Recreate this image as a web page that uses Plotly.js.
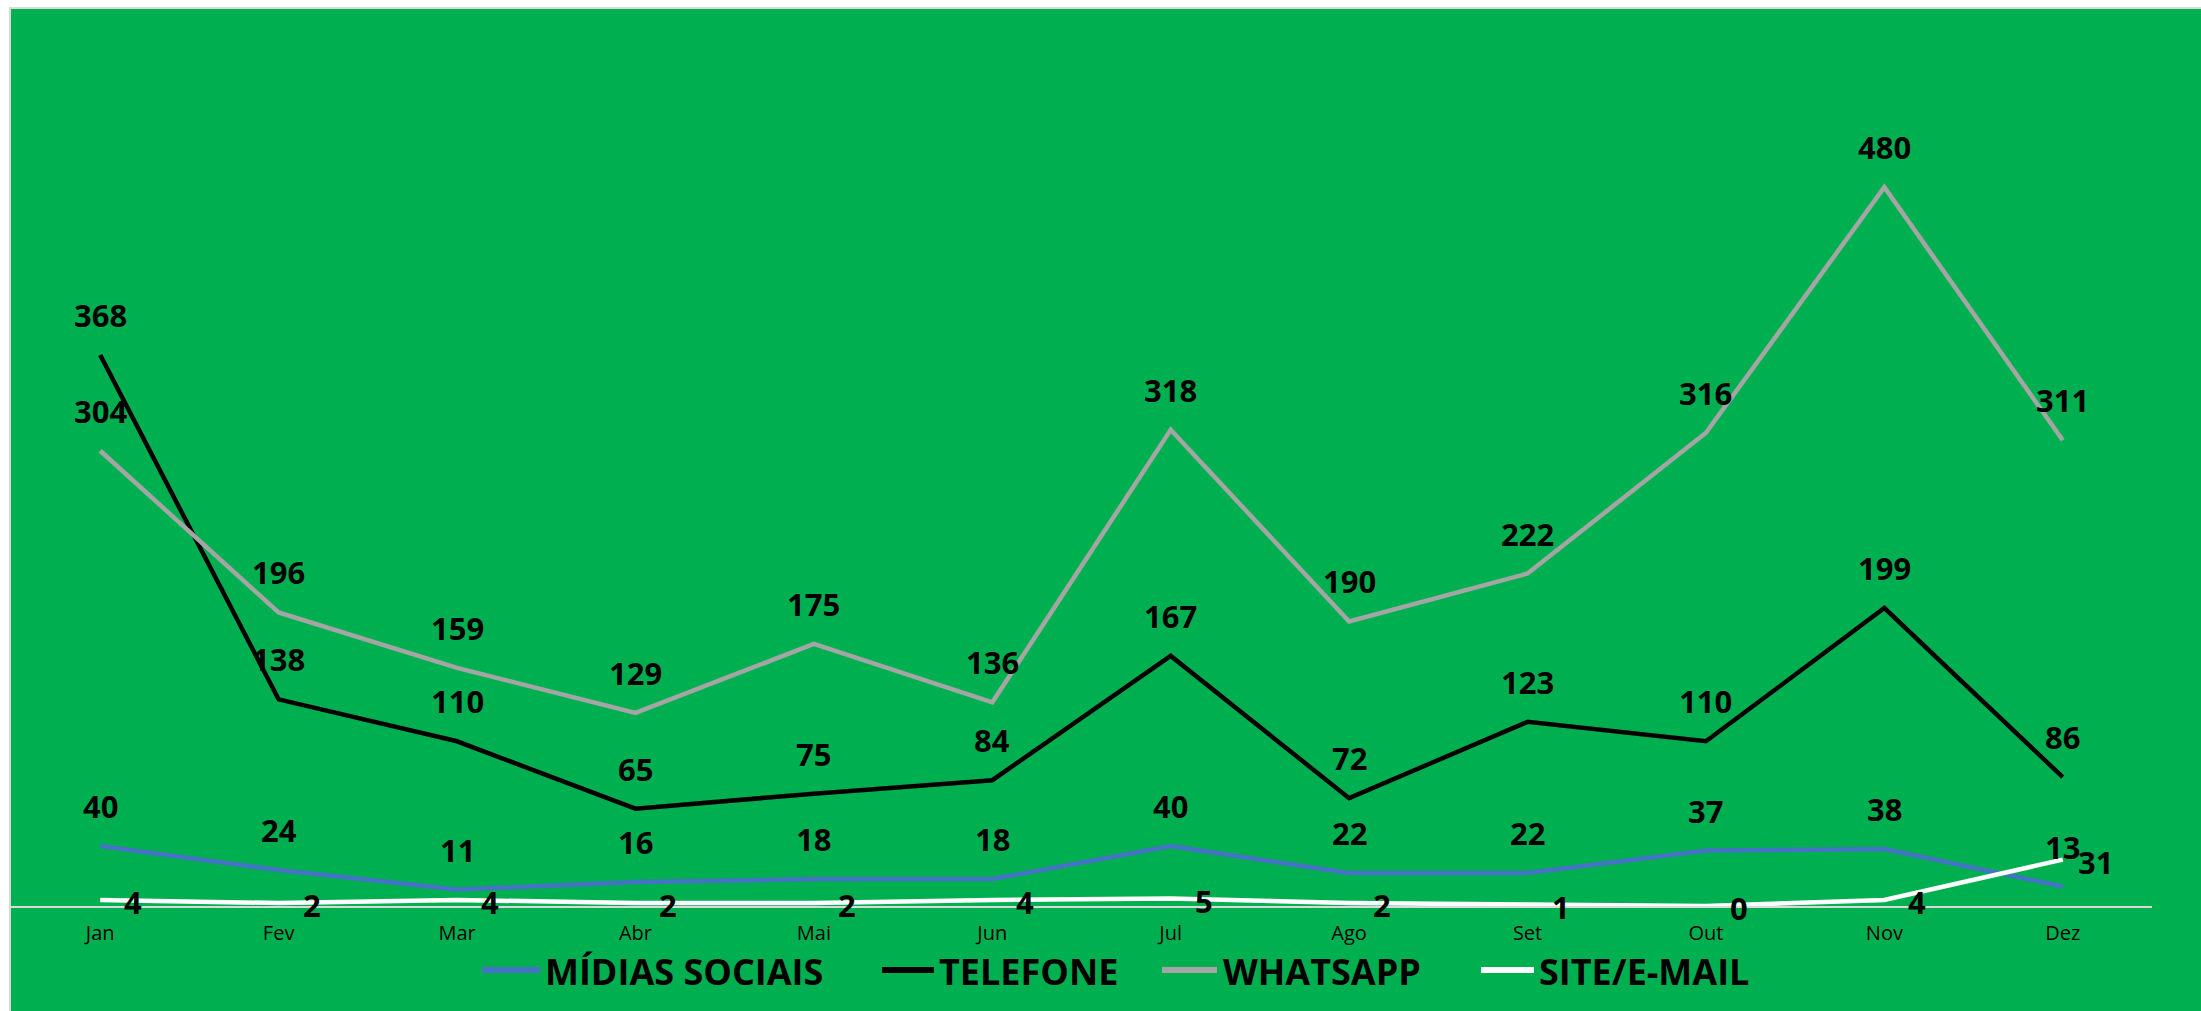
<!DOCTYPE html>
<html><head><meta charset="utf-8">
<script src="https://cdn.plot.ly/plotly-3.0.1.min.js"></script>
<style>
html,body{margin:0;padding:0;background:#fff;width:2201px;height:1011px;overflow:hidden}
#frame{position:absolute;left:9px;top:7px;width:2192px;height:1004px;border-left:2px solid #d9d9d9;border-top:2px solid #d9d9d9;}
#chart{width:2190px;height:1002px;}
</style></head><body><div id="frame"><div id="chart"></div></div>
<script>
const months = ['Jan','Fev','Mar','Abr','Mai','Jun','Jul','Ago','Set','Out','Nov','Dez'];
const midias = [40,24,11,16,18,18,40,22,22,37,38,13];
const telefone = [368,138,110,65,75,84,167,72,123,110,199,86];
const whatsapp = [304,196,159,129,175,136,318,190,222,316,480,311];
const site = [4,2,4,2,2,4,5,2,1,0,4,31];
const seriesNames = ['MÍDIAS SOCIAIS','TELEFONE','WHATSAPP','SITE/E-MAIL'];
const seriesColors = ['#4472C4','#000000','#A5A5A5','#FFFFFF'];
const seriesData = [midias, telefone, whatsapp, site];

const W = 2190, H = 1002;
const mL = 0, mR = 49, mT = 0, mB = 105;
const plotW = W - mL - mR, plotH = H - mT - mB;

const labelFont = {family:'Open Sans, Noto Sans, sans-serif', size:31, color:'#000', weight:'bold'};
const legendFont = {family:'Open Sans, Noto Sans, sans-serif', size:36, color:'#000', weight:'bold'};

const traces = seriesData.map((vals,i)=>({
  type:'scatter', mode:'lines', x:months, y:vals, name:seriesNames[i],
  line:{color:seriesColors[i], width:4.5}, showlegend:false, hoverinfo:'skip'
}));

const annotations = [];
seriesData.forEach((vals,i)=>{
  vals.forEach((v,j)=>{
    const isSite = (i===3);
    annotations.push({
      x: months[j], y: v, xref:'x', yref:'y', text:String(v), showarrow:false,
      font: labelFont, xanchor:'center', yanchor:'middle',
      xshift: isSite ? 33 : 0, yshift: isSite ? -2 : 40
    });
  });
});

// custom legend (pixel positions in page -> paper coords)
const legLines = [[482,540],[882,934],[1162,1217],[1481,1534]];
const legText = [543,937,1221,1537];
const legY = 971;
const px2paperX = p => (p - 11 - mL) / plotW;
const py2paperY = p => (plotH - (p - 9 - mT)) / plotH;
const shapes = [];
seriesNames.forEach((n,i)=>{
  shapes.push({type:'line', xref:'paper', yref:'paper',
    x0:px2paperX(legLines[i][0]), x1:px2paperX(legLines[i][1]),
    y0:py2paperY(legY-1), y1:py2paperY(legY-1),
    line:{color:seriesColors[i], width:6}});
  annotations.push({xref:'paper', yref:'paper', x:px2paperX(legText[i]), y:py2paperY(legY),
    xanchor:'left', yanchor:'middle', text:n, showarrow:false, font:legendFont});
});

const layout = {
  width:W, height:H,
  margin:{l:mL, r:mR, t:mT, b:mB, pad:0},
  paper_bgcolor:'#00B050', plot_bgcolor:'#00B050',
  showlegend:false,
  xaxis:{type:'category', range:[-0.5,11.5], showline:true, linecolor:'#D9D9D9', linewidth:2,
    ticks:'', showgrid:false, zeroline:false, tickfont:{family:'Open Sans, sans-serif', size:20, color:'#000'},
    ticklabelstandoff:8, fixedrange:true},
  yaxis:{range:[0,599], visible:false, showgrid:false, zeroline:false, fixedrange:true},
  annotations:annotations, shapes:shapes
};
Plotly.newPlot('chart', traces, layout, {staticPlot:true, displayModeBar:false});
</script></body></html>
